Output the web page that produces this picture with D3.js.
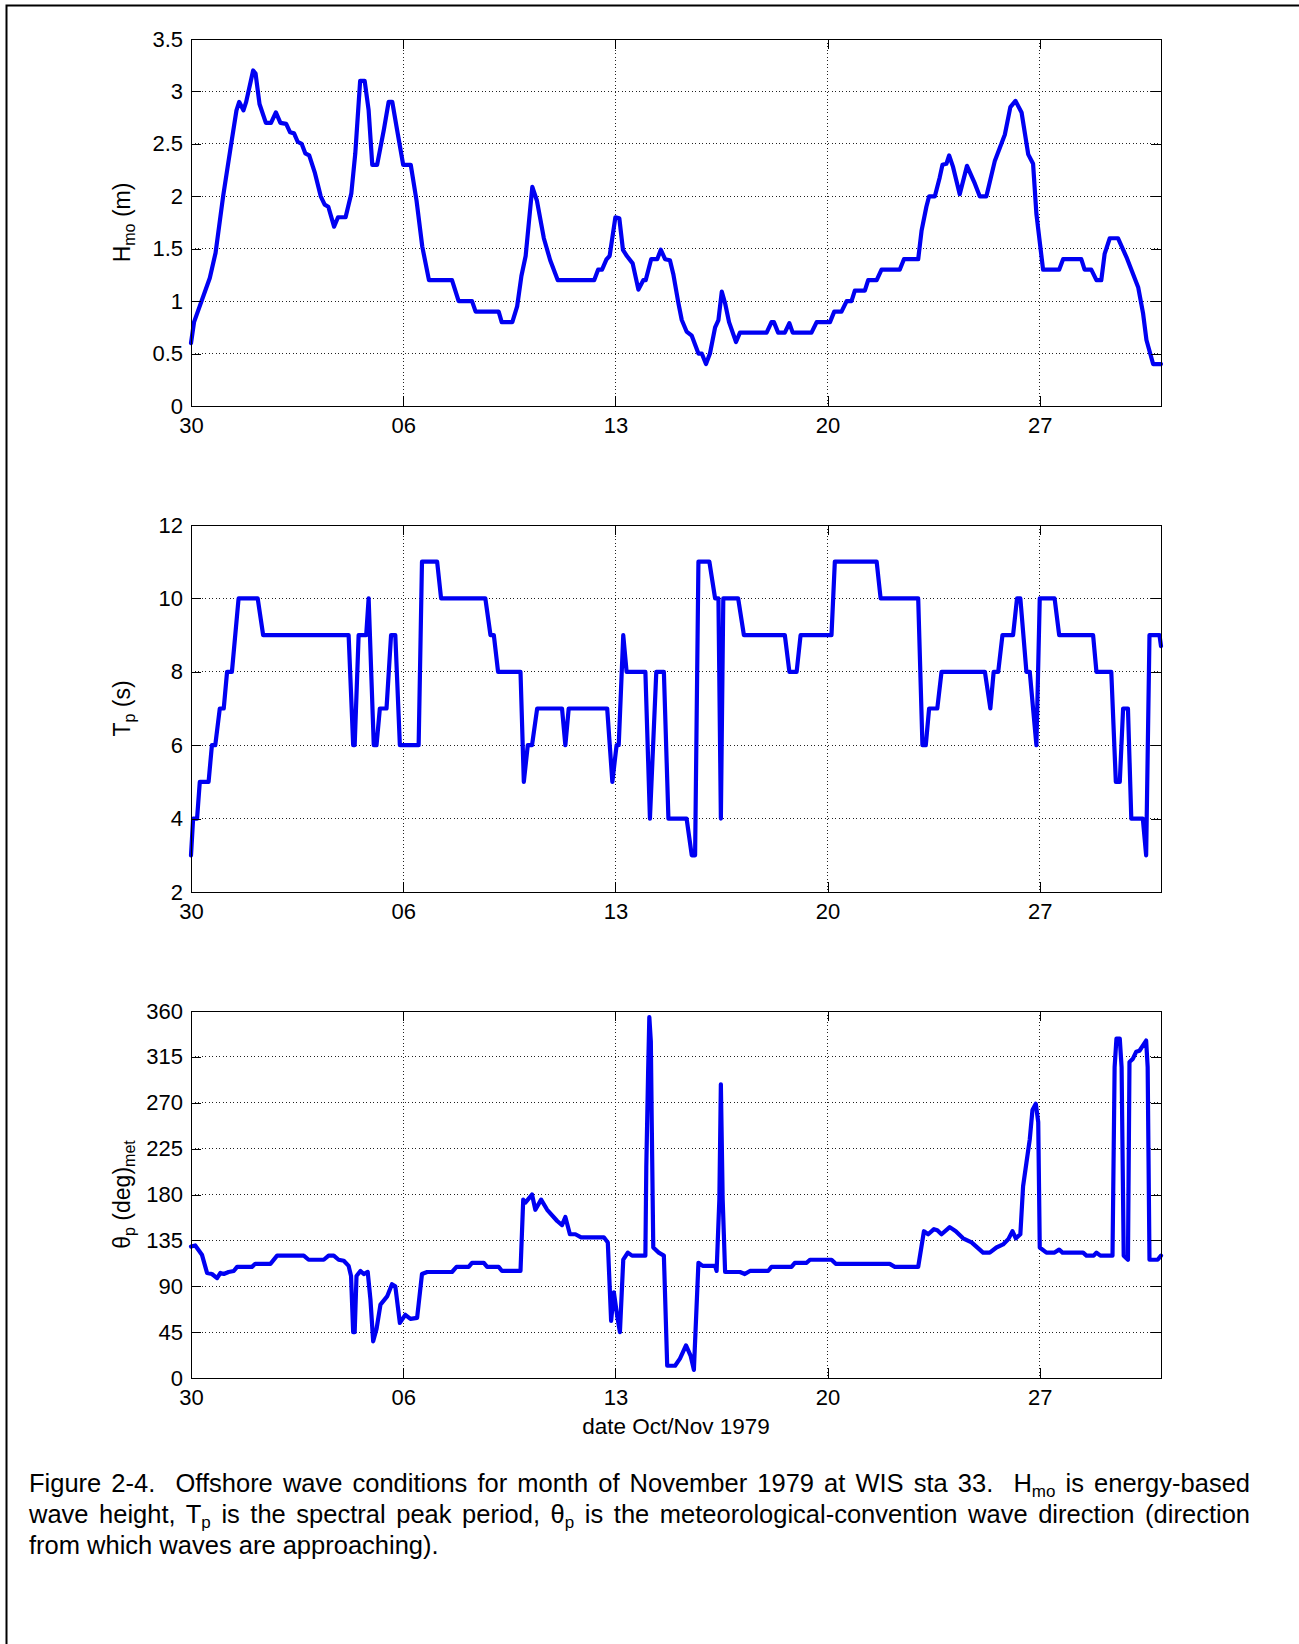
<!DOCTYPE html>
<html>
<head>
<meta charset="utf-8">
<script src="https://cdn.jsdelivr.net/npm/d3@7"></script>
<style>
body { margin: 0; background: #fff; }
svg { display: block; font-family: "Liberation Sans", Arial, sans-serif; }
</style>
</head>
<body>
<svg id="fig" width="1299" height="1644"></svg>
<script>
// WIS sta 33, Nov 1979, time in days after 30 Oct 00:00
const startMs = Date.UTC(1979, 9, 30);
const spanDays = 32;
const dateTickDays = [0, 7, 14, 21, 28];

const hmoSeries = [
  [0,0.6],[0.1,0.8],[0.62,1.22],[0.81,1.46],[1.06,2.0],[1.31,2.47],[1.5,2.82],[1.59,2.9],
  [1.73,2.82],[1.82,2.9],[2.05,3.2],[2.13,3.17],[2.26,2.88],[2.47,2.7],[2.64,2.7],[2.8,2.8],
  [2.95,2.7],[3.14,2.69],[3.27,2.61],[3.4,2.6],[3.52,2.52],[3.65,2.5],[3.77,2.41],[3.9,2.39],
  [4.09,2.22],[4.28,2.0],[4.41,1.92],[4.53,1.9],[4.72,1.71],[4.85,1.8],[5.1,1.8],[5.29,2.03],
  [5.42,2.41],[5.58,3.1],[5.73,3.1],[5.86,2.82],[5.98,2.3],[6.14,2.3],[6.36,2.63],[6.52,2.9],
  [6.64,2.9],[6.8,2.63],[7.0,2.3],[7.25,2.3],[7.44,1.96],[7.63,1.52],[7.85,1.2],[8.61,1.2],
  [8.83,1.0],[9.27,1.0],[9.39,0.9],[10.15,0.9],[10.25,0.8],[10.6,0.8],[10.76,0.95],[10.9,1.24],
  [11.04,1.43],[11.26,2.09],[11.41,1.96],[11.64,1.6],[11.85,1.39],[12.1,1.2],[13.3,1.2],
  [13.43,1.3],[13.56,1.3],[13.71,1.4],[13.81,1.43],[14.0,1.8],[14.13,1.79],[14.25,1.49],
  [14.38,1.43],[14.57,1.36],[14.76,1.11],[14.92,1.2],[15.0,1.2],[15.18,1.4],[15.38,1.4],
  [15.5,1.49],[15.64,1.4],[15.8,1.39],[15.91,1.26],[16.08,0.98],[16.19,0.82],[16.35,0.71],
  [16.52,0.67],[16.74,0.5],[16.85,0.5],[16.99,0.4],[17.12,0.5],[17.29,0.75],[17.4,0.82],
  [17.51,1.09],[17.62,0.98],[17.75,0.8],[17.98,0.61],[18.11,0.7],[18.99,0.7],[19.15,0.8],
  [19.23,0.8],[19.37,0.7],[19.59,0.7],[19.74,0.79],[19.85,0.7],[20.47,0.7],[20.64,0.8],
  [21.08,0.8],[21.22,0.9],[21.46,0.9],[21.63,1.0],[21.79,1.0],[21.9,1.1],[22.23,1.1],
  [22.34,1.2],[22.62,1.2],[22.78,1.3],[23.38,1.3],[23.52,1.4],[23.99,1.4],[24.1,1.67],
  [24.26,1.9],[24.35,2.0],[24.54,2.0],[24.7,2.18],[24.79,2.3],[24.92,2.31],[25.01,2.39],
  [25.14,2.28],[25.36,2.02],[25.6,2.29],[25.86,2.12],[26.02,2.0],[26.24,2.0],[26.52,2.34],
  [26.85,2.59],[27.03,2.85],[27.2,2.91],[27.4,2.8],[27.62,2.4],[27.78,2.31],[27.89,1.83],
  [28.11,1.3],[28.64,1.3],[28.77,1.4],[29.37,1.4],[29.48,1.3],[29.7,1.3],[29.87,1.2],
  [30.03,1.2],[30.14,1.45],[30.31,1.6],[30.58,1.6],[30.86,1.42],[31.25,1.13],[31.41,0.88],
  [31.52,0.63],[31.74,0.4],[32.0,0.4]
];

const tpSeries = [
  [0,3],[0.07,4],[0.2,4],[0.29,5],[0.58,5],[0.69,6],[0.8,6],[0.95,7],[1.08,7],[1.19,8],
  [1.35,8],[1.57,10],[2.2,10],[2.38,9],[5.2,9],[5.35,6],[5.4,6],[5.53,9],[5.78,9],[5.86,10],
  [6.03,6],[6.12,6],[6.23,7],[6.45,7],[6.6,9],[6.74,9],[6.89,6],[7.51,6],[7.62,11],[8.12,11],
  [8.25,10],[9.71,10],[9.88,9],[9.99,9],[10.13,8],[10.87,8],[10.98,5],[11.11,6],[11.25,6],
  [11.42,7],[12.24,7],[12.35,6],[12.46,7],[13.73,7],[13.9,5],[14.04,6],[14.11,6],[14.26,9],
  [14.37,8],[14.99,8],[15.14,4],[15.35,8],[15.6,8],[15.75,4],[16.35,4],[16.52,3],[16.63,3],
  [16.74,11],[17.1,11],[17.29,10],[17.4,10],[17.48,4],[17.56,10],[18.05,10],[18.24,9],
  [19.59,9],[19.74,8],[19.98,8],[20.11,9],[21.13,9],[21.24,11],[22.62,11],[22.75,10],
  [23.99,10],[24.13,6],[24.24,6],[24.35,7],[24.62,7],[24.76,8],[26.19,8],[26.37,7],[26.48,8],
  [26.63,8],[26.77,9],[27.12,9],[27.25,10],[27.36,10],[27.56,8],[27.67,8],[27.89,6],[28.0,10],
  [28.49,10],[28.64,9],[29.76,9],[29.87,8],[30.36,8],[30.51,5],[30.64,5],[30.75,7],[30.91,7],
  [31.02,4],[31.4,4],[31.51,3],[31.62,9],[31.95,9],[32.0,8.7]
];

const dirSeries = [
  [0,129],[0.14,130],[0.36,121],[0.53,103],[0.69,102],[0.86,98],[0.97,103],[1.08,102],
  [1.24,104],[1.41,105],[1.52,109],[2.01,109],[2.12,112],[2.62,112],[2.84,120],[3.72,120],
  [3.88,116],[4.38,116],[4.54,120],[4.71,120],[4.87,116],[5.04,115],[5.2,110],[5.28,100],
  [5.35,45],[5.4,45],[5.46,100],[5.59,105],[5.7,102],[5.83,104],[5.92,77],[6.01,36],
  [6.12,48],[6.25,72],[6.47,80],[6.63,92],[6.74,90],[6.89,54],[7.07,62],[7.24,58],[7.46,59],
  [7.62,102],[7.79,104],[8.61,104],[8.76,109],[9.16,109],[9.27,113],[9.66,113],[9.77,109],
  [10.15,109],[10.26,105],[10.87,105],[10.96,175],[11.03,172],[11.14,176],[11.25,180],
  [11.36,165],[11.55,175],[11.75,165],[12.08,154],[12.24,150],[12.35,158],[12.5,141],
  [12.68,141],[12.87,138],[13.62,138],[13.75,133],[13.86,56],[13.95,84],[14.06,61],
  [14.15,45],[14.26,116],[14.41,123],[14.55,120],[14.99,120],[15.02,207],[15.08,300],
  [15.12,354],[15.17,330],[15.2,250],[15.25,128],[15.43,123],[15.6,120],[15.71,12],
  [15.97,12],[16.13,19],[16.33,32],[16.48,22],[16.59,8],[16.74,113],[16.88,110],[17.29,110],
  [17.34,105],[17.43,175],[17.48,288],[17.54,175],[17.62,104],[18.11,104],[18.27,102],
  [18.44,105],[19.04,105],[19.15,109],[19.81,109],[19.92,113],[20.31,113],[20.42,116],
  [21.13,116],[21.27,112],[23.05,112],[23.22,109],[23.99,109],[24.18,144],[24.32,141],
  [24.51,146],[24.62,145],[24.76,141],[25.03,148],[25.23,144],[25.47,137],[25.75,133],
  [26.13,123],[26.35,123],[26.57,128],[26.79,131],[26.96,136],[27.1,144],[27.21,137],
  [27.36,141],[27.45,188],[27.56,211],[27.67,234],[27.76,263],[27.87,269],[27.95,251],
  [28.0,128],[28.22,123],[28.49,123],[28.64,126],[28.75,123],[29.43,123],[29.54,120],
  [29.78,120],[29.87,123],[30.0,120],[30.4,120],[30.47,305],[30.53,333],[30.64,333],
  [30.7,305],[30.77,120],[30.91,116],[30.96,310],[31.07,313],[31.18,320],[31.29,321],
  [31.4,326],[31.51,331],[31.56,305],[31.62,116],[31.89,116],[32.0,120]
];

const hmoTicks = [0, 0.5, 1, 1.5, 2, 2.5, 3, 3.5];
const tpTicks = [2, 4, 6, 8, 10, 12];
const dirTicks = [0, 45, 90, 135, 180, 225, 270, 315, 360];

const captionLines = [
  [["Figure 2-4.\u00a0 Offshore wave conditions for month of November 1979 at WIS sta 33.\u00a0 H"], ["mo", 1], [" is energy-based"]],
  [["wave height, T"], ["p", 1], [" is the spectral peak period, \u03b8"], ["p", 1], [" is the meteorological-convention wave direction (direction"]],
  [["from which waves are approaching)."]]
];

const dayToDate = d => new Date(startMs + d * 864e5);

const svg = d3.select('#fig');
const X0 = 191, X1 = 1161, PH = 367;
const blue = '#0000f2';
const FS = 22;

// page frame (only top & left edge fall inside the picture)
svg.append('path').attr('d', 'M6.5,1644 L6.5,5.5 L1299,5.5')
  .attr('fill', 'none').attr('stroke', '#000').attr('stroke-width', 2);

const x = d3.scaleUtc().domain([dayToDate(0), dayToDate(spanDays)]).range([X0, X1]);
const xTicks = dateTickDays.map(dayToDate);

// writes a label made of [text, isSub] parts
function addParts(textSel, parts, size, subSize, shift){
  parts.forEach((p, i) => {
    const sub = p[1] === 1;
    const prevSub = i > 0 && parts[i-1][1] === 1;
    const ts = textSel.append('tspan').text(p[0]).attr('font-size', sub ? subSize : size);
    if (sub && !prevSub) ts.attr('dy', shift);
    else if (!sub && prevSub) ts.attr('dy', -shift);
  });
}

const panels = [
  {top: 39, data: hmoSeries, ticks: hmoTicks, label: [["H"], ["mo", 1], [" (m)"]]},
  {top: 525, data: tpSeries, ticks: tpTicks, label: [["T"], ["p", 1], [" (s)"]]},
  {top: 1011, data: dirSeries, ticks: dirTicks, label: [["\u03b8"], ["p", 1], [" (deg)"], ["met", 1]]}
];

panels.forEach(p => {
  const y = d3.scaleLinear().domain(d3.extent(p.ticks)).range([p.top + PH, p.top]);
  const g = svg.append('g');

  // dotted grid
  g.selectAll('.hg').data(p.ticks.slice(1, -1)).join('line').attr('class', 'hg')
    .attr('x1', X0).attr('x2', X1).attr('y1', d => y(d)).attr('y2', d => y(d));
  g.selectAll('.vg').data(xTicks.slice(1)).join('line').attr('class', 'vg')
    .attr('x1', d => x(d)).attr('x2', d => x(d)).attr('y1', p.top).attr('y2', p.top + PH);
  g.selectAll('.hg,.vg').attr('stroke', '#222').attr('stroke-width', 1)
    .attr('stroke-dasharray', '1,2.5').attr('shape-rendering', 'crispEdges');

  const line = d3.line().x(d => x(dayToDate(d[0]))).y(d => y(d[1]));
  g.append('path').datum(p.data).attr('d', line).attr('fill', 'none')
    .attr('stroke', blue).attr('stroke-width', 4.2)
    .attr('stroke-linejoin', 'round').attr('stroke-linecap', 'round');

  g.append('rect').attr('x', X0).attr('y', p.top).attr('width', X1 - X0).attr('height', PH)
    .attr('fill', 'none').attr('stroke', '#000').attr('stroke-width', 1).attr('shape-rendering', 'crispEdges');

  const axes = [
    g.append('g').attr('transform', `translate(${X0},0)`)
      .call(d3.axisLeft(y).tickValues(p.ticks).tickSize(-10).tickPadding(8).tickFormat(d => d)),
    g.append('g').attr('transform', `translate(${X1},0)`)
      .call(d3.axisRight(y).tickValues(p.ticks).tickSize(-10).tickFormat('')),
    g.append('g').attr('transform', `translate(0,${p.top + PH})`)
      .call(d3.axisBottom(x).tickValues(xTicks).tickSize(-10).tickPadding(11).tickFormat(d3.utcFormat('%d'))),
    g.append('g').attr('transform', `translate(0,${p.top})`)
      .call(d3.axisTop(x).tickValues(xTicks).tickSize(-10).tickFormat(''))
  ];
  axes.forEach(a => {
    a.attr('font-size', FS).attr('font-family', null);
    a.select('.domain').remove();
    a.selectAll('line').attr('stroke', '#000').attr('shape-rendering', 'crispEdges');
    a.selectAll('text').attr('fill', '#000');
  });

  const lab = svg.append('text')
    .attr('transform', `translate(130,${p.top + PH / 2}) rotate(-90)`)
    .attr('text-anchor', 'middle').attr('fill', '#000');
  addParts(lab, p.label, 23, 16, 5);
});

svg.append('text').attr('x', (X0 + X1) / 2).attr('y', 1434)
  .attr('text-anchor', 'middle').attr('font-size', 22.5).attr('fill', '#000')
  .text('date Oct/Nov 1979');

// caption: first two lines are justified to the right margin like the document text
const capLeft = 29, capRight = 1250;
captionLines.forEach((parts, i) => {
  const t = svg.append('text').attr('x', capLeft).attr('y', 1492 + i * 31).attr('fill', '#000');
  addParts(t, parts, 25.5, 17, 5);
  if (i < captionLines.length - 1) {
    const natural = t.node().getComputedTextLength();
    const gaps = (parts.map(p => p[0]).join('').match(/[ \u00a0]/g) || []).length;
    const extra = (capRight - capLeft - natural) / gaps;
    if (extra > 0) t.attr('word-spacing', extra);
  }
});
</script>
</body>
</html>
